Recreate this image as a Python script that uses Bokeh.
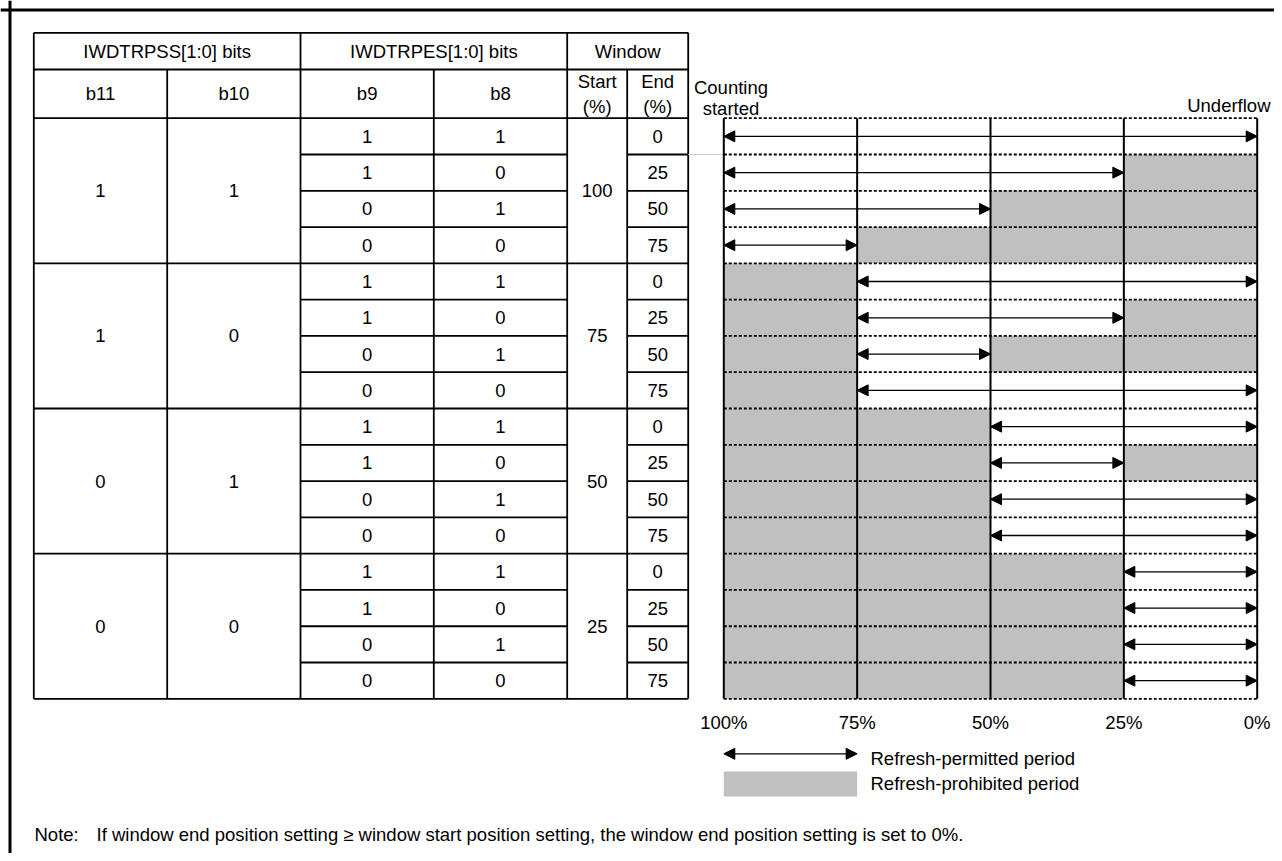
from bokeh.plotting import figure
from bokeh.models import Range1d, Arrow, NormalHead, ColumnDataSource
from bokeh.embed import file_html
from bokeh.resources import INLINE
from bokeh.core.properties import value

# ---------------- data ----------------
header_top = ["IWDTRPSS[1:0] bits", "IWDTRPES[1:0] bits", "Window"]
header_bits = ["b11", "b10", "b9", "b8"]
header_start = ["Start", "(%)"]
header_end = ["End", "(%)"]
b11_vals = ["1", "1", "0", "0"]          # per group
b10_vals = ["1", "0", "1", "0"]          # per group
b9_vals = ["1", "1", "0", "0"]           # per row inside a group
b8_vals = ["1", "0", "1", "0"]           # per row inside a group
window_start = [100, 75, 50, 25]         # per group (%)
window_end = [0, 25, 50, 75]             # per row inside a group (%)
pct_ticks = [100, 75, 50, 25, 0]
pct_labels = ["100%", "75%", "50%", "25%", "0%"]
legend_labels = ["Refresh-permitted period", "Refresh-prohibited period"]
top_labels = ["Counting", "started", "Underflow"]
note_head = "Note:"
note_body = ("If window end position setting \u2265 window start position setting, "
             "the window end position setting is set to 0%.")

# ---------------- layout (picture pixels) ----------------
OX, OY = 0, 0
W, H = 1274, 853
col_x = [33.3, 166.7, 300.0, 433.3, 566.7, 626.7, 687.7]
y_top, y_h1, y_h2 = 32.3, 69.0, 117.7
row_h = (698.3 - 117.7) / 16
n_rows = 16
y_bot = y_h2 + n_rows * row_h
DX0, DX1 = 723.3, 1256.7          # 100% and 0% positions
FONT = value("Liberation Sans")
FS = "18.5px"
FS_NOTE = "18.5px"
GRAY = "#c0c0c0"

p = figure(width=W, height=H, output_backend="svg", toolbar_location=None,
           x_range=Range1d(OX, OX + W), y_range=Range1d(OY + H, OY),
           min_border=0, min_border_left=0, min_border_right=0,
           min_border_top=0, min_border_bottom=0)
p.axis.visible = False
p.grid.visible = False
p.outline_line_color = None
p.background_fill_color = "white"
p.border_fill_color = "white"

# extra ranges: percent scale for the diagram, row index for rows
ppp = (DX1 - DX0) / 100.0
p.extra_x_ranges = {"pct": Range1d(100 - (OX - DX0) / ppp, 100 - (OX + W - DX0) / ppp)}
p.extra_y_ranges = {"row": Range1d((OY + H - y_h2) / row_h, (OY - y_h2) / row_h)}

# ---------------- outer frame ----------------
p.segment(x0=[OX, 9.5], y0=[9.5, OY], x1=[OX + W, 9.5], y1=[9.5, OY + H],
          line_color="black", line_width=3)

# ---------------- table lines ----------------
hx0, hy0, hx1, hy1 = [], [], [], []
for yy in (y_top, y_h1, y_h2, y_bot):
    hx0.append(col_x[0]); hx1.append(col_x[6]); hy0.append(yy); hy1.append(yy)
for i in range(1, n_rows):
    yy = y_h2 + i * row_h
    if i % 4 == 0:
        segs = [(col_x[0], col_x[6])]
    else:
        segs = [(col_x[2], col_x[4]), (col_x[5], col_x[6])]
    for a, b in segs:
        hx0.append(a); hx1.append(b); hy0.append(yy); hy1.append(yy)
for k in (0, 2, 4, 6):
    hx0.append(col_x[k]); hx1.append(col_x[k]); hy0.append(y_top); hy1.append(y_bot)
for k in (1, 3, 5):
    hx0.append(col_x[k]); hx1.append(col_x[k]); hy0.append(y_h1); hy1.append(y_bot)
p.segment(x0=hx0, y0=hy0, x1=hx1, y1=hy1, line_color="black", line_width=1.8)

# faint connector line
p.segment(x0=[col_x[6]], y0=[y_h2 + row_h], x1=[DX0], y1=[y_h2 + row_h],
          line_color="#cfcfcf", line_width=1)

# ---------------- table texts ----------------
tx, ty, tt = [], [], []
mids = [(col_x[i] + col_x[i + 1]) / 2 for i in range(6)]
for j, lab in enumerate(header_top):
    tx.append((col_x[2 * j] + col_x[2 * j + 2]) / 2); ty.append((y_top + y_h1) / 2); tt.append(lab)
ym2 = (y_h1 + y_h2) / 2
for j, lab in enumerate(header_bits):
    tx.append(mids[j]); ty.append(ym2); tt.append(lab)
for k, lab in enumerate(header_start):
    tx.append(mids[4]); ty.append(ym2 - 12.5 + 25 * k); tt.append(lab)
for k, lab in enumerate(header_end):
    tx.append(mids[5]); ty.append(ym2 - 12.5 + 25 * k); tt.append(lab)
for g in range(4):
    yg = y_h2 + (4 * g + 2) * row_h
    for c, vals in ((0, b11_vals), (1, b10_vals)):
        tx.append(mids[c]); ty.append(yg); tt.append(vals[g])
    tx.append(mids[4]); ty.append(yg); tt.append(str(window_start[g]))
    for r in range(4):
        yr = y_h2 + (4 * g + r + 0.5) * row_h
        tx.append(mids[2]); ty.append(yr); tt.append(b9_vals[r])
        tx.append(mids[3]); ty.append(yr); tt.append(b8_vals[r])
        tx.append(mids[5]); ty.append(yr); tt.append(str(window_end[r]))
p.text(x=tx, y=ty, text=tt, text_font=FONT, text_font_size=FS,
       text_align="center", text_baseline="middle", text_color="black")

# ---------------- diagram ----------------
q_l, q_r, q_t, q_b = [], [], [], []
a_x0, a_x1, a_y = [], [], []
for g in range(4):
    s = window_start[g]
    for r in range(4):
        e = window_end[r]
        e_eff = e if e < s else 0
        row = 4 * g + r
        if s < 100:
            q_l.append(100); q_r.append(s); q_t.append(row); q_b.append(row + 1)
        if e_eff > 0:
            q_l.append(e_eff); q_r.append(0); q_t.append(row); q_b.append(row + 1)
        a_x0.append(s); a_x1.append(e_eff); a_y.append(row + 0.5)
p.quad(left=q_l, right=q_r, top=q_t, bottom=q_b, fill_color=GRAY, line_color=None,
       x_range_name="pct", y_range_name="row")

rows_b = list(range(n_rows + 1))
p.segment(x0=[100] * len(rows_b), x1=[0] * len(rows_b), y0=rows_b, y1=rows_b,
          line_color="black", line_width=1.8, line_dash="3 2",
          x_range_name="pct", y_range_name="row")
p.segment(x0=pct_ticks, x1=pct_ticks, y0=[0] * 5, y1=[n_rows] * 5,
          line_color="black", line_width=2, x_range_name="pct", y_range_name="row")


def head():
    return NormalHead(size=11, fill_color="black", line_color="black", line_width=1)


asrc = ColumnDataSource(dict(x0=a_x0, x1=a_x1, y=a_y))
p.add_layout(Arrow(x_start="x0", y_start="y", x_end="x1", y_end="y", source=asrc,
                   line_color="black", line_width=1.3, start=head(), end=head(),
                   x_range_name="pct", y_range_name="row"))

# tick labels
p.text(x=pct_ticks, y=[721.7] * 5, text=pct_labels, x_range_name="pct",
       text_font=FONT, text_font_size=FS, text_align="center", text_baseline="middle")

# top labels
p.text(x=[730.5, 730.5], y=[87, 108], text=top_labels[:2], text_font=FONT,
       text_font_size=FS, text_align="center", text_baseline="middle")
p.text(x=[1270], y=[105], text=top_labels[2:], text_font=FONT,
       text_font_size=FS, text_align="right", text_baseline="middle")

# ---------------- legend ----------------
lsrc = ColumnDataSource(dict(x0=[pct_ticks[0]], x1=[pct_ticks[1]], y=[753.3]))
p.add_layout(Arrow(x_start="x0", y_start="y", x_end="x1", y_end="y", source=lsrc,
                   line_color="black", line_width=1.3, start=head(), end=head(),
                   x_range_name="pct"))
p.quad(left=[pct_ticks[0]], right=[pct_ticks[1]], top=[771], bottom=[796],
       fill_color=GRAY, line_color=None, x_range_name="pct")
p.text(x=[870, 870], y=[758, 783], text=legend_labels, text_font=FONT, text_font_size=FS,
       text_align="left", text_baseline="middle")

# ---------------- note ----------------
p.text(x=[34, 96], y=[834, 834], text=[note_head, note_body], text_font=FONT,
       text_font_size=FS_NOTE, text_align="left", text_baseline="middle")

open("out.html", "w").write(file_html(p, INLINE))
